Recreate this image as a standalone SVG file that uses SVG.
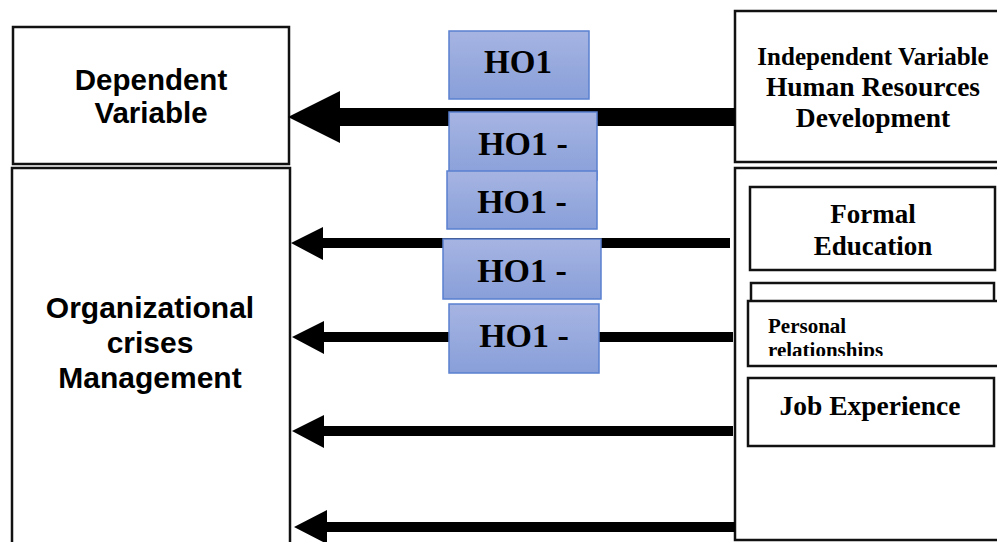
<svg xmlns="http://www.w3.org/2000/svg" width="997" height="542" viewBox="0 0 997 542">
<defs>
<linearGradient id="hoGrad" x1="0" y1="0" x2="0" y2="1">
<stop offset="0" stop-color="#a6b4e2"/>
<stop offset="1" stop-color="#889fd9"/>
</linearGradient>
<clipPath id="persClip"><rect x="748" y="302" width="260" height="54"/></clipPath>
<style>
.box{fill:#fff;stroke:#111;stroke-width:2.5}
.ho{fill:url(#hoGrad);stroke:#5a80cf;stroke-width:1.5}
.sans{font-family:"Liberation Sans",Arial,sans-serif;font-weight:bold;fill:#000}
.serif{font-family:"Liberation Serif","Times New Roman",serif;font-weight:bold;fill:#000}
.arrow{fill:#000}
</style>
</defs>

<g id="dependent">
<rect class="box" x="13" y="27" width="276" height="137"/>
<text class="sans" font-size="29.5" text-anchor="middle" x="151" y="90">Dependent</text>
<text class="sans" font-size="29.5" text-anchor="middle" x="151" y="123">Variable</text>
</g>

<g id="org-crises">
<rect class="box" x="12" y="168" width="278" height="380"/>
<text class="sans" font-size="30" text-anchor="middle" x="150" y="318">Organizational</text>
<text class="sans" font-size="30" text-anchor="middle" x="150" y="353">crises</text>
<text class="sans" font-size="30" text-anchor="middle" x="150" y="388">Management</text>
</g>

<g id="independent">
<rect class="box" x="735" y="11" width="280" height="151"/>
<text class="serif" font-size="25" text-anchor="middle" x="873" y="65">Independent Variable</text>
<text class="serif" font-size="27.5" text-anchor="middle" x="873" y="96">Human Resources</text>
<text class="serif" font-size="27.5" text-anchor="middle" x="873" y="127">Development</text>
</g>

<g id="dimensions">
<rect class="box" x="735" y="168" width="280" height="372"/>
</g>

<g id="connectors">
<polygon class="arrow" points="288,117 340,91 340,108 735,108 735,126 340,126 340,143"/>
<polygon class="arrow" points="291,243 323,227 323,238 730,238 730,248 323,248 323,260"/>
<polygon class="arrow" points="292,337 324,321 324,332 733,332 733,342 324,342 324,354"/>
<polygon class="arrow" points="292,431 324,415 324,426 733,426 733,436 324,436 324,448"/>
<polygon class="arrow" points="294,527 327,510 327,522 735,522 735,532 327,532 327,544"/>
</g>

<g id="formal-education">
<rect class="box" x="750" y="187" width="245" height="83"/>
<text class="serif" font-size="27" text-anchor="middle" x="873" y="223">Formal</text>
<text class="serif" font-size="27" text-anchor="middle" x="873" y="255">Education</text>
</g>

<g id="personal-back">
<rect class="box" x="751" y="283" width="243" height="40"/>
</g>

<g id="personal-relationships">
<rect class="box" x="748" y="301" width="270" height="65"/>
<g clip-path="url(#persClip)">
<text class="serif" font-size="21" x="768" y="333">Personal</text>
<text class="serif" font-size="21" x="768" y="357">relationships</text>
</g>
</g>

<g id="job-experience">
<rect class="box" x="748" y="378" width="246" height="68"/>
<text class="serif" font-size="27.5" text-anchor="middle" x="870" y="415">Job Experience</text>
</g>

<g id="ho1-a">
<rect class="ho" x="449" y="31" width="140" height="68"/>
<text class="serif" font-size="33" text-anchor="middle" x="518" y="73">HO1</text>
</g>
<g id="ho1-b">
<rect class="ho" x="449" y="112" width="148" height="68"/>
<text class="serif" font-size="34" text-anchor="middle" x="523" y="155">HO1 -</text>
</g>
<g id="ho1-c">
<rect class="ho" x="447" y="171" width="150" height="58"/>
<text class="serif" font-size="34" text-anchor="middle" x="522" y="213">HO1 -</text>
</g>
<g id="ho1-d">
<rect class="ho" x="443" y="239" width="158" height="60"/>
<text class="serif" font-size="34" text-anchor="middle" x="522" y="282">HO1 -</text>
</g>
<g id="ho1-e">
<rect class="ho" x="449" y="304" width="150" height="69"/>
<text class="serif" font-size="34" text-anchor="middle" x="524" y="347">HO1 -</text>
</g>
</svg>
